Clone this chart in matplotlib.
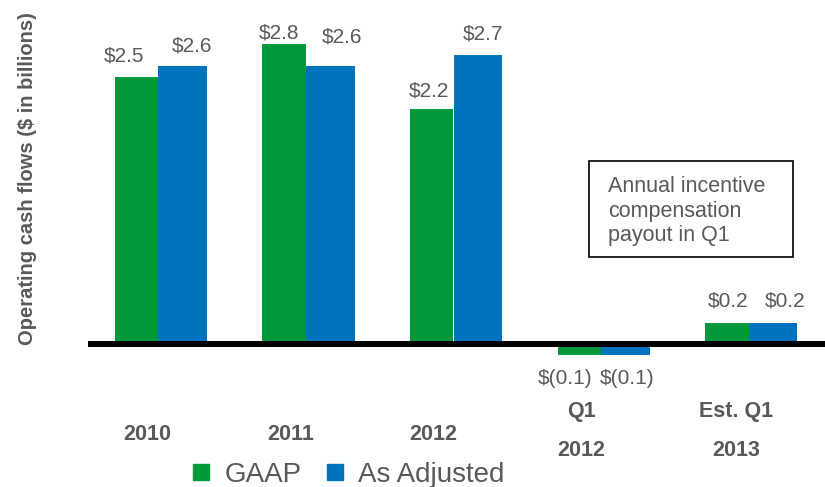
import matplotlib.pyplot as plt
from matplotlib.patches import Rectangle, Patch

plt.rcParams['font.family'] = ['Liberation Sans', 'DejaVu Sans']

# data
cats_top = ['2010', '2011', '2012', 'Q1', 'Est. Q1']
cats_bot = ['', '', '', '2012', '2013']
gaap = [2.5, 2.8, 2.2, -0.1, 0.2]
adjusted = [2.6, 2.6, 2.7, -0.1, 0.2]
gaap_lbl = ['$2.5', '$2.8', '$2.2', '$(0.1)', '$0.2']
adj_lbl = ['$2.6', '$2.6', '$2.7', '$(0.1)', '$0.2']

GREEN = '#009A3D'
BLUE = '#0073BF'
GREY = '#595959'

W, H = 825, 487
PT = 72 / 100  # px -> points

# label nudges (px), value labels were hand placed in the original
g_dx = [-12, -5, -3, -14, 1]
g_dy = [21, 11, 18, -24, 22]
a_dx = [9, 12, 5, 2, 12]
a_dy = [20, 29, 21, -24, 22]
cat_dx = [-11, -15, -20, -20, -13]

fig = plt.figure(figsize=(W / 100, H / 100), dpi=100)
ax_top, ax_bot = 10, 400
ax = fig.add_axes([88 / W, 1 - ax_bot / H, (W - 88) / W, (ax_bot - ax_top) / H])
ppu = 107.0
base = 344
ax.set_ylim(-(ax_bot - base) / ppu, (base - ax_top) / ppu)
ax.set_xlim((88 - 158.3) / 147.6, (825 - 158.3) / 147.6)
ax.axis('off')

x = range(len(gaap))
wg, wa = 0.295, 0.33
ax.bar([i - wg / 2 for i in x], gaap, width=wg, color=GREEN, linewidth=0)
ax.bar([i + wa / 2 for i in x], adjusted, width=wa, color=BLUE, linewidth=0)
ax.axhline(0, color='black', lw=6 * PT, zorder=3)

for i in x:
    ax.annotate(gaap_lbl[i], (i - wg / 2, gaap[i]), xytext=(g_dx[i] * PT, g_dy[i] * PT),
                textcoords='offset points', ha='center', va='center', fontsize=15, color=GREY)
    ax.annotate(adj_lbl[i], (i + wa / 2, adjusted[i]), xytext=(a_dx[i] * PT, a_dy[i] * PT),
                textcoords='offset points', ha='center', va='center', fontsize=15, color=GREY)
    if cats_bot[i]:
        rows = [(cats_top[i], 411), (cats_bot[i], 450)]
    else:
        rows = [(cats_top[i], 435)]
    for txt, ypx in rows:
        ax.annotate(txt, (i, 1 - ypx / H), xycoords=('data', 'figure fraction'),
                    xytext=(cat_dx[i] * PT, 0), textcoords='offset points',
                    ha='center', va='center', fontsize=15.5, fontweight='bold', color=GREY)

fig.text(28 / W, 1 - 179 / H, 'Operating cash flows ($ in billions)', rotation=90,
         ha='center', va='center', fontsize=14.5, fontweight='bold', color=GREY)

# callout box
fig.add_artist(Rectangle((589 / W, 1 - 257 / H), 204 / W, 96 / H, transform=fig.transFigure,
                         fill=False, ec='black', lw=1.2))
fig.text(608 / W, 1 - 211 / H, 'Annual incentive\ncompensation\npayout in Q1',
         ha='left', va='center', fontsize=15.5, color=GREY, linespacing=1.2)

handles = [Patch(color=GREEN, label='GAAP'), Patch(color=BLUE, label='As Adjusted')]
fig.legend(handles=handles, loc='center left', bbox_to_anchor=(193 / W, 1 - 475 / H),
           ncol=2, frameon=False, fontsize=20, labelcolor=GREY, borderpad=0,
           borderaxespad=0, handlelength=0.58, handleheight=0.54, handletextpad=0.55,
           columnspacing=0.9)

plt.savefig('out.png', dpi=100)
